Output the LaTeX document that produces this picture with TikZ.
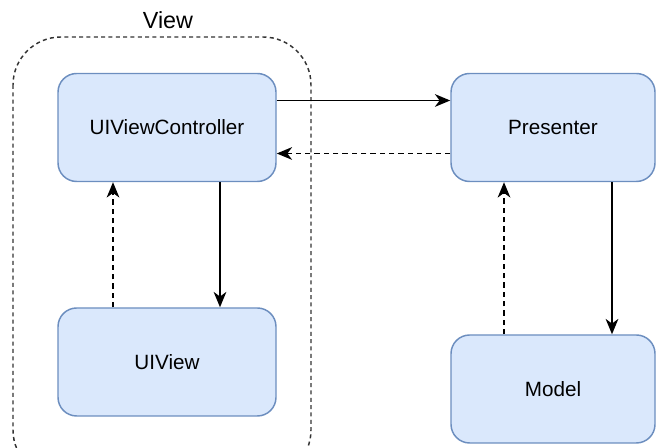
\documentclass[tikz,border=0pt]{standalone}
\usepackage{fontspec}
\setmainfont{Liberation Sans}
\usetikzlibrary{calc,positioning,arrows.meta}

\definecolor{boxfill}{HTML}{DAE8FC}
\definecolor{boxline}{HTML}{6C8EBF}

\tikzset{
  part/.style={rectangle,rounded corners=14pt,draw=boxline,fill=boxfill,line width=1.1pt,
    minimum width=204*0.75pt,minimum height=108*0.75pt,font=\fontsize{15.5}{18}\selectfont},
  flow/.style={-{Stealth[length=11.5pt,width=9.5pt,inset=3.5pt]},line width=1.25pt,black},
  back/.style={flow,dash pattern=on 4pt off 3pt}
}

\begin{document}
\begin{tikzpicture}[x=0.75pt,y=0.75pt]

  \useasboundingbox (0,0) rectangle (656,448);
  \clip (0,0) rectangle (656,448);

  % the view group
  \draw[line width=1.1pt,dash pattern=on 3pt off 2.5pt,rounded corners=36pt,black!80] (13,411) rectangle (311,-30);
  \node (view_lbl) [draw=none,font=\fontsize{17.5}{20}\selectfont] at (168,428) {View};

  \node (uivc) [part,minimum width=218*0.75pt] at (167,320.5) {UIViewController};
  \node (uiview) [part,minimum width=218*0.75pt] at (167,86) {UIView};
  \node (presenter) [part] at (553,320.5) {Presenter};
  \node (model) [part] at (553,59) {Model};

  \draw[flow] ($(uivc.east)+(0,27)$) -- ($(presenter.west)+(0,27)$);
  \draw[back] ($(presenter.west)+(0,-26)$) -- ($(uivc.east)+(0,-26)$);

  \draw[flow] ($(uivc.south)+(53,0)$) -- ($(uiview.north)+(53,0)$);
  \draw[back] ($(uiview.north)+(-54,0)$) -- ($(uivc.south)+(-54,0)$);

  \draw[flow] ($(presenter.south)+(59,0)$) -- ($(model.north)+(59,0)$);
  \draw[back] ($(model.north)+(-49,0)$) -- ($(presenter.south)+(-49,0)$);

\end{tikzpicture}
\end{document}
